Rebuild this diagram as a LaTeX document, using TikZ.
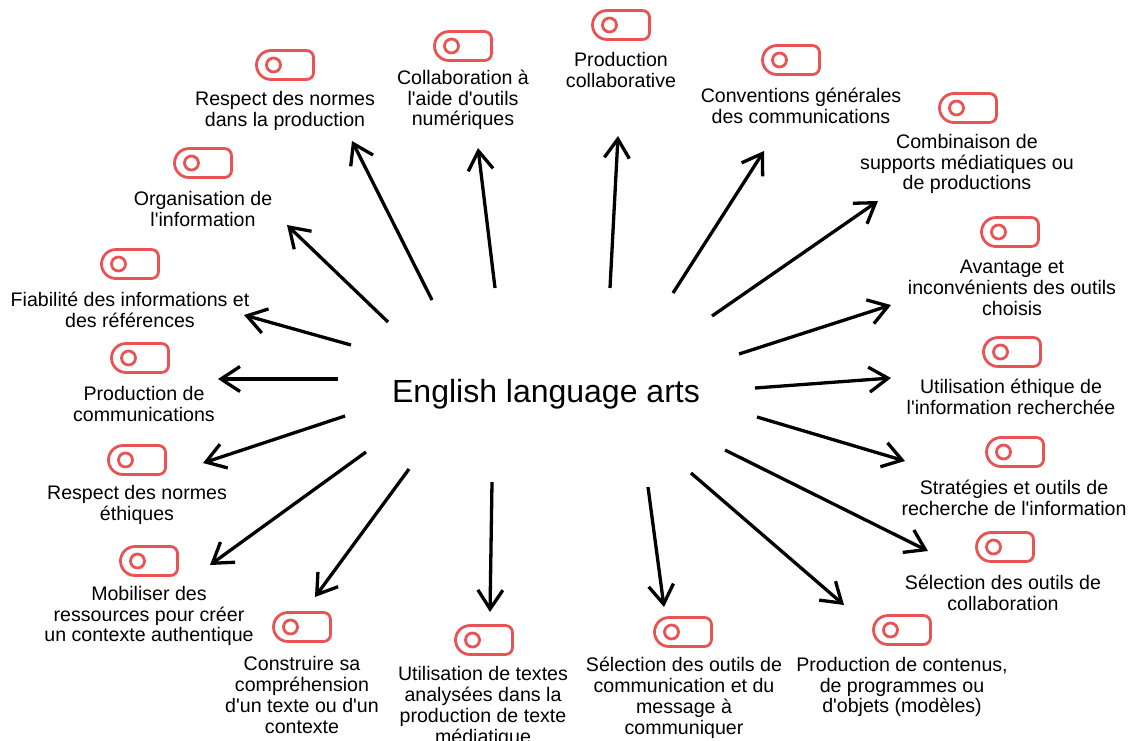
\documentclass[tikz,border=0pt]{standalone}
\usepackage{fontspec}
\newfontfamily\arialish{Liberation Sans}
\usepackage{tikz}
\usetikzlibrary{arrows.meta}
\definecolor{tagred}{RGB}{233, 83, 83}
\definecolor{ink}{RGB}{0, 0, 0}

\tikzset{
  tagline/.style={draw=tagred, line width=2.8pt, line join=round},
  spoke/.style={ink, line width=3.3pt,
    -{Straight Barb[length=19pt, width=25pt, line width=3.3pt]}},
  topic/.style={align=center, inner sep=0pt,
    font=\arialish\fontsize{19.6}{20.8}\selectfont},
  hub/.style={inner sep=0pt, font=\arialish\fontsize{32}{36}\selectfont},
  tagicon/.pic={
    \draw[tagline] (-14, -14.5) -- (21.5, -14.5) arc (-90:0:7) -- (28.5, 7.5)
                   arc (0:90:7) -- (-14, 14.5) arc (90:270:14.5) -- cycle;
    \draw[tagline] (-11.5, 0) circle (7);
  }
}

% #1 name, #2 icon, #3 label, #4 arrow from, #5 arrow to, #6 text
\newcommand{\topicitem}[6]{
  \pic at #2 {tagicon};
  \node[topic] (lbl#1) at #3 {#6};
  \coordinate (from#1) at #4;
  \coordinate (to#1) at #5;
  \draw[spoke] (from#1) -- (to#1);
}

\begin{document}
\begin{tikzpicture}[x=1pt, y=-1pt]

  \useasboundingbox (0, 0) rectangle (1131, 740);

  \node[hub] (ela) at (546, 394) {English language arts};

  % top half
  \topicitem{collab}{(621, 25)}{(621, 70)}{(610, 288)}{(618, 136)}
    {Production\\collaborative}
  \topicitem{tools}{(463, 46)}{(463, 100)}{(495, 288)}{(478, 148)}
    {Collaboration à\\l'aide d'outils\\numériques}
  \topicitem{normsprod}{(285, 65)}{(285, 111)}{(432, 300)}{(352, 141)}
    {Respect des normes\\dans la production}
  \topicitem{conv}{(791, 60)}{(801, 106)}{(673, 293)}{(764, 151)}
    {Conventions générales\\des communications}
  \topicitem{combi}{(968, 108)}{(967, 164)}{(712, 316)}{(878, 201)}
    {Combinaison de\\supports médiatiques ou\\de productions}
  \topicitem{orga}{(203, 163)}{(203, 209)}{(388, 322)}{(287, 225)}
    {Organisation de\\l'information}
  \topicitem{pros}{(1010, 232)}{(1012, 288)}{(739, 354)}{(891, 305)}
    {Avantage et\\inconvénients des outils\\choisis}
  \topicitem{refs}{(130, 264)}{(130, 310)}{(351, 345)}{(244, 315)}
    {Fiabilité des informations et\\des références}

  % middle
  \topicitem{comm}{(140, 358)}{(144, 404)}{(338, 379)}{(218, 379)}
    {Production de\\communications}
  \topicitem{ethic}{(1012, 352)}{(1011, 397)}{(755, 388)}{(891, 378)}
    {Utilisation éthique de\\l'information recherchée}

  % bottom half
  \topicitem{normseth}{(137, 460)}{(137, 505)}{(345, 416)}{(203, 463)}
    {Respect des normes\\éthiques}
  \topicitem{search}{(1015, 452)}{(1014, 498)}{(757, 417)}{(905, 461)}
    {Stratégies et outils de\\recherche de l'information}
  \topicitem{res}{(149, 561)}{(149, 616)}{(366, 452)}{(210, 565)}
    {Mobiliser des\\ressources pour créer\\un contexte authentique}
  \topicitem{selcollab}{(1005, 547)}{(1003, 593)}{(725, 450)}{(928, 551)}
    {Sélection des outils de\\collaboration}
  \topicitem{underst}{(302, 627)}{(302, 695)}{(409, 469)}{(315, 597)}
    {Construire sa\\compréhension\\d'un texte ou d'un\\contexte}
  \topicitem{texts}{(484, 640)}{(483, 707)}{(492, 482)}{(490, 612)}
    {Utilisation de textes\\analysées dans la\\production de texte\\médiatique}
  \topicitem{selcomm}{(683, 632)}{(684, 698)}{(648, 487)}{(664, 607)}
    {Sélection des outils de\\communication et du\\message à\\communiquer}
  \topicitem{content}{(902, 630)}{(902, 687)}{(691, 473)}{(844, 605)}
    {Production de contenus,\\de programmes ou\\d'objets (modèles)}

\end{tikzpicture}
\end{document}
